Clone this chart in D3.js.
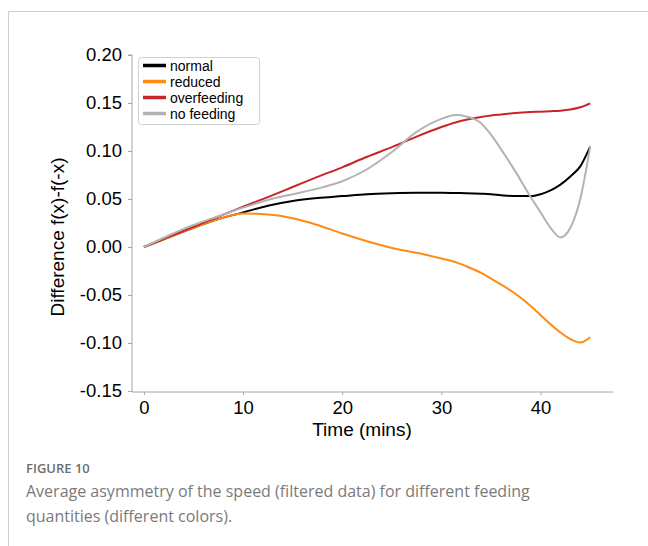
<!DOCTYPE html>
<html>
<head>
<meta charset="utf-8">
<script src="https://cdn.jsdelivr.net/npm/d3@7"></script>
<style>
  html, body { margin: 0; padding: 0; background: #fff; }
  svg { display: block; }
</style>
</head>
<body>
<svg id="fig" width="648" height="546"></svg>
<script>
// Sample times (minutes) shared by every series
const times = [0, 2.5, 5, 7.5, 10, 12.5, 15, 17.5, 20, 22.5, 25, 27.5, 30, 31.5, 32.5, 34, 35, 36, 37.5, 39, 40, 41, 42, 43, 44, 45];

// Average asymmetry f(x)-f(-x) per feeding condition
const normal      = [0, 0.010, 0.020, 0.029, 0.036, 0.043, 0.048, 0.051, 0.053, 0.055, 0.056, 0.0565, 0.0565, 0.0562, 0.056, 0.0555, 0.055, 0.054, 0.053, 0.053, 0.055, 0.059, 0.065, 0.0735, 0.084, 0.1045];
const reduced     = [0, 0.010, 0.020, 0.029, 0.0348, 0.0338, 0.030, 0.023, 0.014, 0.006, -0.001, -0.006, -0.012, -0.016, -0.020, -0.027, -0.033, -0.039, -0.049, -0.0615, -0.071, -0.0805, -0.089, -0.096, -0.0995, -0.094];
const overfeeding = [0, 0.0105, 0.021, 0.0315, 0.042, 0.052, 0.0625, 0.073, 0.083, 0.094, 0.104, 0.115, 0.125, 0.130, 0.1325, 0.1355, 0.137, 0.138, 0.1395, 0.1405, 0.141, 0.1415, 0.142, 0.1432, 0.1455, 0.1497];
const noFeeding   = [0, 0.012, 0.023, 0.032, 0.041, 0.049, 0.055, 0.0608, 0.0685, 0.081, 0.099, 0.120, 0.1335, 0.1375, 0.136, 0.129, 0.117, 0.102, 0.078, 0.052, 0.036, 0.020, 0.010, 0.020, 0.050, 0.1045];

const seriesNames  = ["normal", "reduced", "overfeeding", "no feeding"];
const seriesValues = [normal, reduced, overfeeding, noFeeding];
const seriesColors = ["#000000", "#ff8a14", "#c8242b", "#b3b3b3"];

const xTicks = [0, 10, 20, 30, 40];
const yTicks = [-0.15, -0.10, -0.05, 0.00, 0.05, 0.10, 0.15, 0.20];

const svg = d3.select("#fig");

// Card frame
svg.append("path")
  .attr("d", "M8.5,546 V11.5 H648")
  .attr("fill", "none")
  .attr("stroke", "#cfcfcf")
  .attr("stroke-width", 1);

const x = d3.scaleLinear().domain([-1.2, 47.3]).range([132, 613]);
const y = d3.scaleLinear().domain([-0.15, 0.20]).range([391, 55]);

const font = "'Liberation Sans', Arial, Helvetica, sans-serif";
const axisColor = "#a6a6a6";
const fmt = d => d3.format(".2f")(d).replace("\u2212", "-");

// Y axis
const yAxis = svg.append("g")
  .attr("transform", `translate(${x.range()[0]},0)`)
  .call(d3.axisLeft(y).tickValues(yTicks).tickFormat(fmt).tickSize(4).tickPadding(6));
yAxis.select(".domain").attr("stroke", axisColor).attr("d", `M-4,${y(0.20)}H0V${y(-0.15) + 1}`);

// X axis
const xAxis = svg.append("g")
  .attr("transform", `translate(0,${y(-0.15) + 1})`)
  .call(d3.axisBottom(x).tickValues(xTicks).tickSize(3).tickPadding(6));
xAxis.select(".domain").attr("stroke", axisColor).attr("d", `M${x.range()[0]},0H${x.range()[1]}`);

svg.selectAll(".tick line").attr("stroke", axisColor);
svg.selectAll(".tick text")
  .attr("fill", "#000")
  .style("font-family", font)
  .style("font-size", "18.5px");

// Axis titles
svg.append("text")
  .attr("x", 362).attr("y", 436)
  .attr("text-anchor", "middle")
  .style("font-family", font).style("font-size", "19px")
  .text("Time (mins)");

svg.append("text")
  .attr("transform", "translate(64,237) rotate(-90)")
  .attr("text-anchor", "middle")
  .style("font-family", font).style("font-size", "19px")
  .text("Difference f(x)-f(-x)");

// Curves
const line = d3.line()
  .x((d, i) => x(times[i]))
  .y(d => y(d))
  .curve(d3.curveMonotoneX);

svg.append("g").selectAll("path")
  .data(seriesValues)
  .join("path")
  .attr("d", d => line(d))
  .attr("fill", "none")
  .attr("stroke", (d, i) => seriesColors[i])
  .attr("stroke-width", 2);

// Legend
const legend = svg.append("g");
legend.append("rect")
  .attr("x", 138.5).attr("y", 57.5)
  .attr("width", 121).attr("height", 67)
  .attr("rx", 3)
  .attr("fill", "#fff")
  .attr("stroke", "#d0d0d0");

const rows = legend.selectAll("g.row")
  .data(seriesNames)
  .join("g")
  .attr("transform", (d, i) => `translate(0,${65.5 + i * 16})`);
rows.append("line")
  .attr("x1", 143).attr("x2", 166)
  .attr("stroke", (d, i) => seriesColors[i])
  .attr("stroke-width", 3.5);
rows.append("text")
  .attr("x", 170).attr("y", 5)
  .style("font-family", font).style("font-size", "14px")
  .text(d => d);

// Caption
svg.append("text")
  .attr("x", 26).attr("y", 473)
  .style("font-family", "'Open Sans', sans-serif")
  .style("font-size", "13px").style("font-weight", "600")
  .attr("fill", "#6e6e6e")
  .text("FIGURE 10");

const captionLines = [
  "Average asymmetry of the speed (filtered data) for different feeding",
  "quantities (different colors)."
];
svg.selectAll("text.caption")
  .data(captionLines)
  .join("text")
  .attr("class", "caption")
  .attr("x", 26).attr("y", (d, i) => 497 + i * 25)
  .style("font-family", "'Open Sans', sans-serif")
  .style("font-size", "16px")
  .attr("fill", "#7a7a7a")
  .text(d => d);
</script>
</body>
</html>
